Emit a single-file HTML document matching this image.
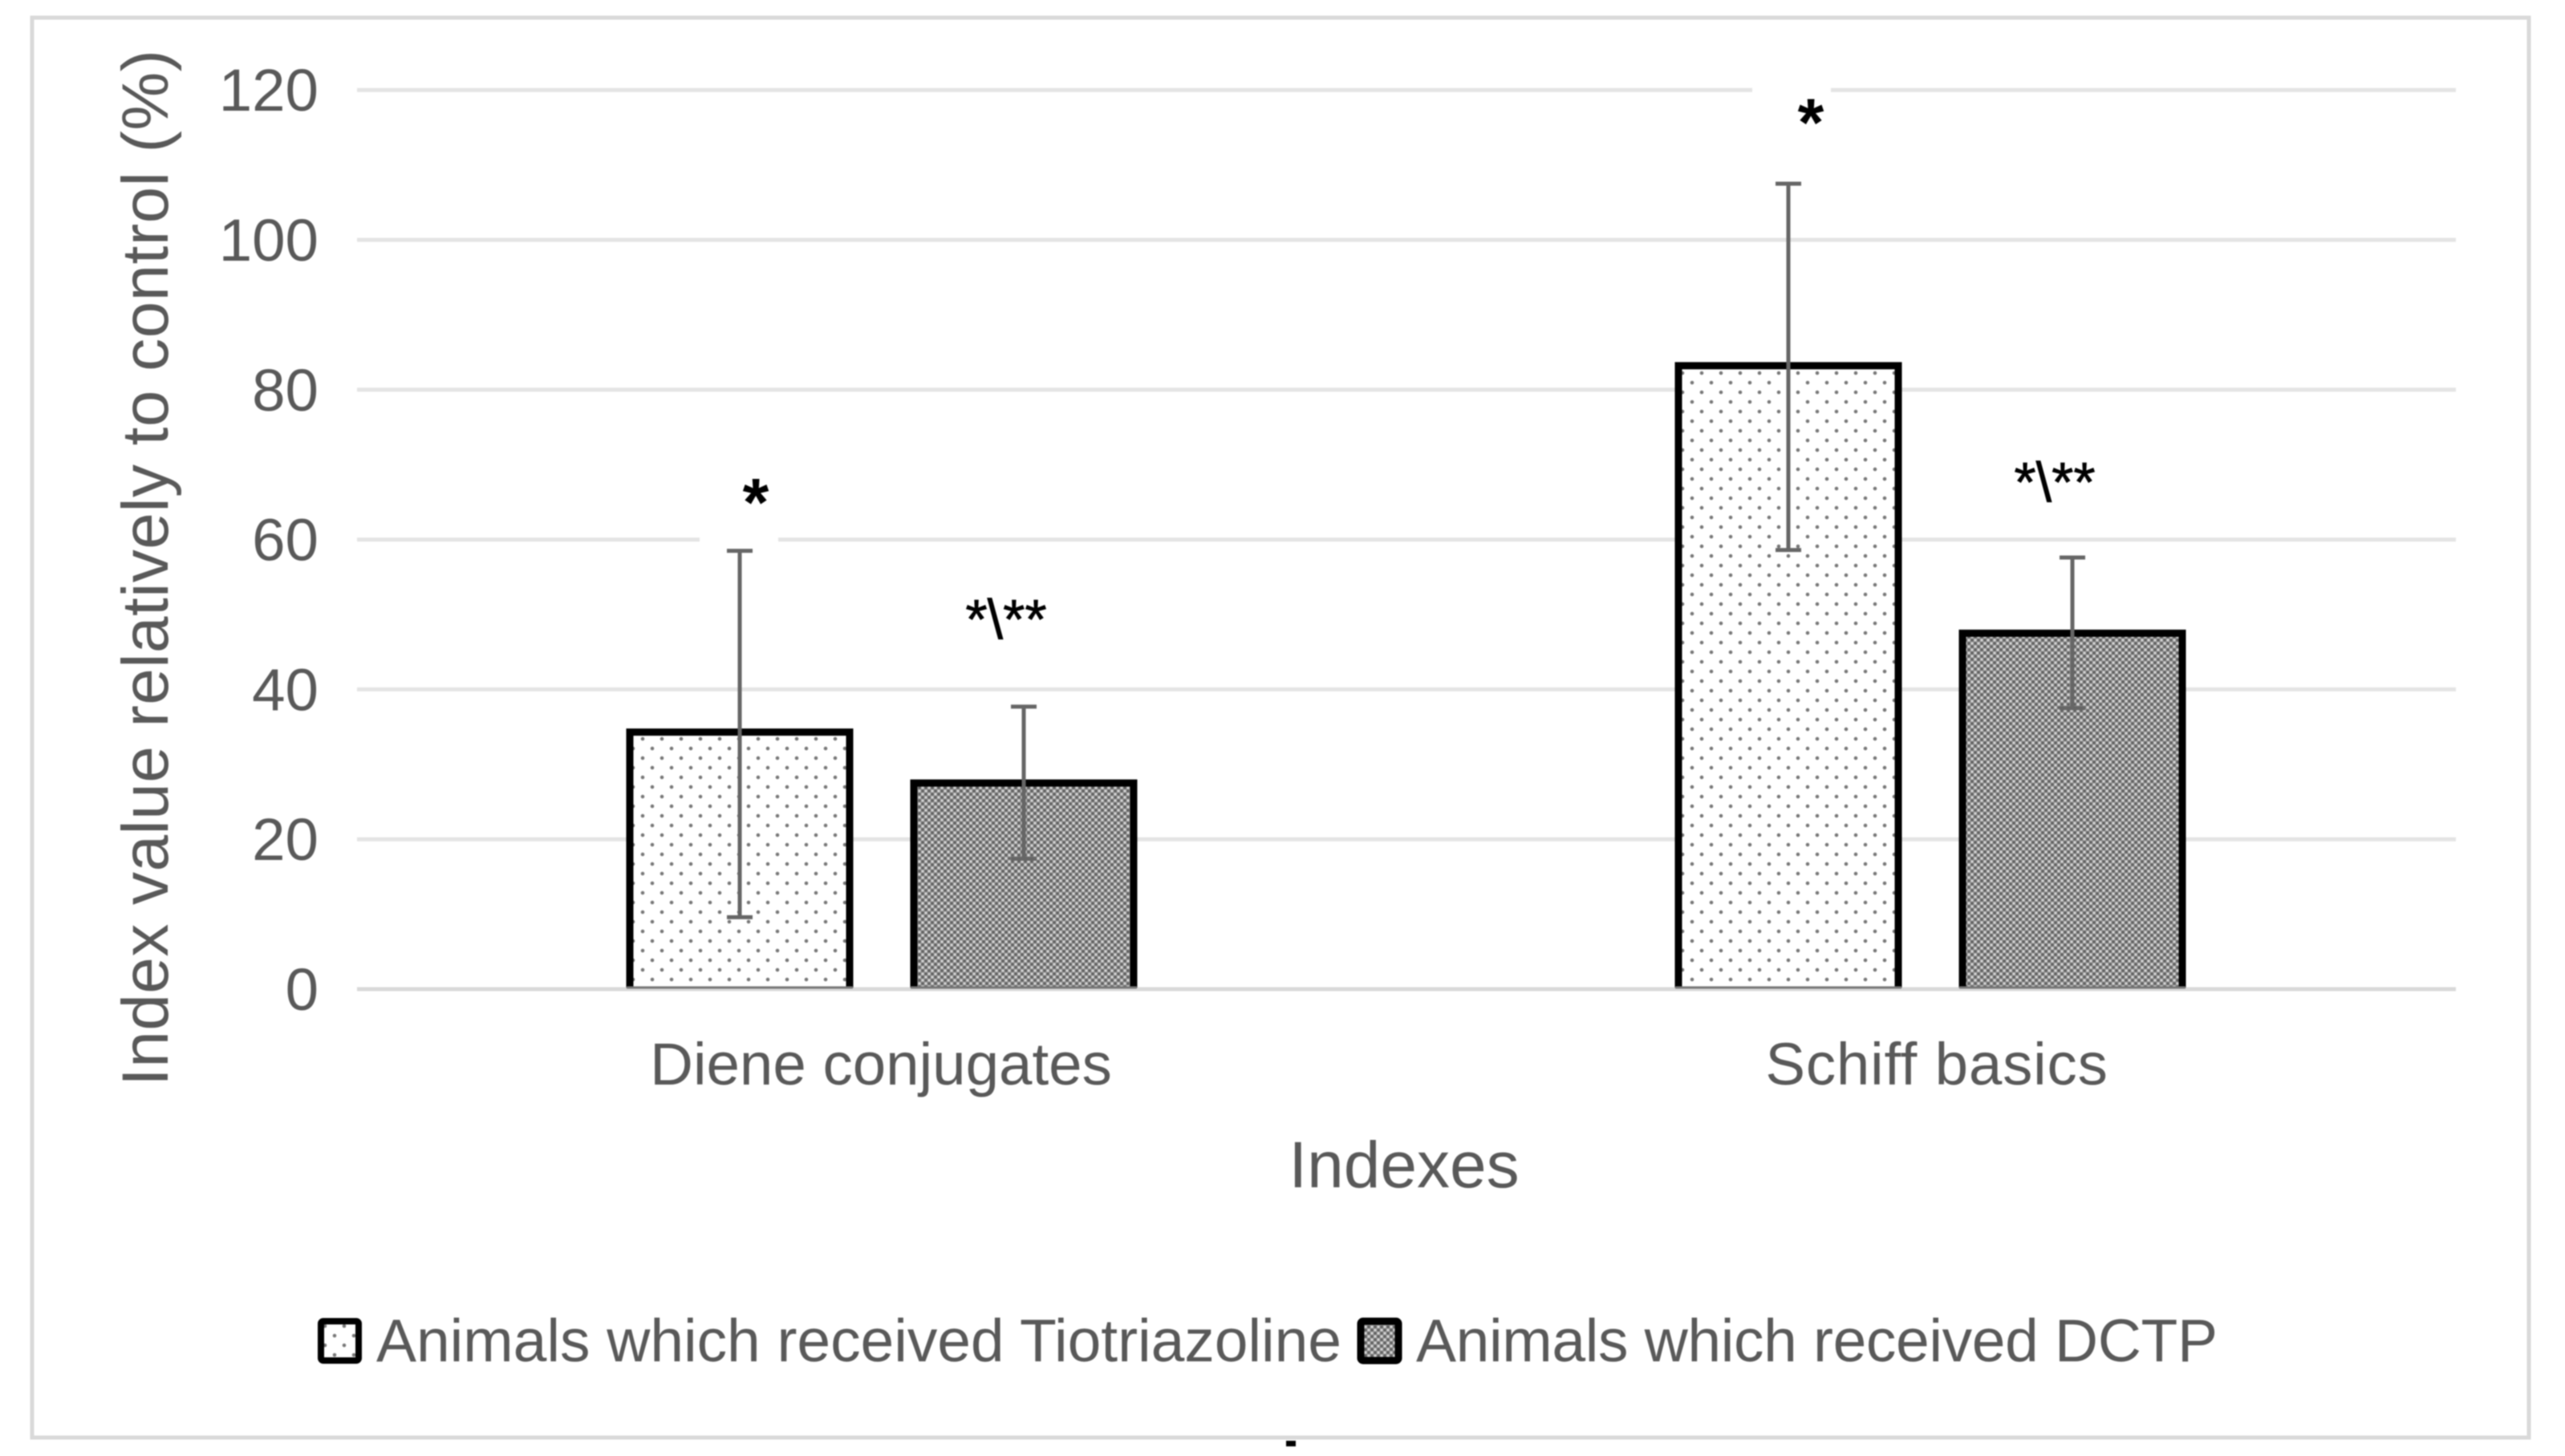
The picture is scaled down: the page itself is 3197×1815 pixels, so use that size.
<!DOCTYPE html>
<html lang="en">
<head>
<meta charset="utf-8">
<title>Index value relative to control</title>
<style>
html,body{margin:0;padding:0;background:#fff;width:3197px;height:1815px;overflow:hidden}
svg{display:block;filter:blur(0.8px)}
text{font-family:"Liberation Sans",Arial,sans-serif}
</style>
</head>
<body>
<svg id="chart" xmlns="http://www.w3.org/2000/svg" width="3197" height="1815" viewBox="0 0 3197 1815">
  <defs>
    <pattern id="pat-dots" width="24" height="24" patternUnits="userSpaceOnUse" patternTransform="translate(3,3)">
      <rect width="24" height="24" fill="#ffffff"/>
      <circle cx="6" cy="6" r="2.3" fill="#777"/>
      <circle cx="18" cy="18" r="2.3" fill="#777"/>
    </pattern>
    <pattern id="pat-mesh" width="8" height="8" patternUnits="userSpaceOnUse">
      <rect width="8" height="8" fill="#8f8f8f"/>
      <rect x="0.5" y="0.5" width="3" height="3" fill="#d4d4d4"/>
      <rect x="4.5" y="4.5" width="3" height="3" fill="#d4d4d4"/>
      <rect x="4.5" y="0.5" width="3" height="3" fill="#5f5f5f"/>
      <rect x="0.5" y="4.5" width="3" height="3" fill="#5f5f5f"/>
    </pattern>
  </defs>
  <rect width="3197" height="1815" fill="#ffffff"/>
  <rect x="40" y="22" width="3112" height="1770" fill="none" stroke="#d9d9d9" stroke-width="5"/>
  <g id="grid"></g>
  <g id="yticks"></g>
  <g id="masks"></g>
  <g id="bars"></g>
  <g id="errs"></g>
  <g id="annots"></g>
  <g id="xticks"></g>
  <text transform="translate(209,1354) rotate(-90)" font-size="82" fill="#595959" textLength="1292">Index value relatively to control (%)</text>
  <text x="1750" y="1480" text-anchor="middle" font-size="82" fill="#595959">Indexes</text>
  <g>
    <g>
      <rect x="400" y="1647" width="47" height="49" rx="3" fill="url(#pat-dots)" stroke="#000" stroke-width="8"/>
      <text x="469" y="1697" font-size="75" fill="#595959" textLength="1203">Animals which received Tiotriazoline</text>
    </g>
    <g>
      <rect x="1696" y="1647" width="47" height="49" rx="3" fill="url(#pat-mesh)" stroke="#000" stroke-width="9"/>
      <text x="1765" y="1697" font-size="75" fill="#595959" textLength="999">Animals which received DCTP</text>
    </g>
  </g>
  <rect x="1603" y="1796" width="12" height="7" fill="#000"/>
</svg>
<script>
const categories = ["Diene conjugates", "Schiff basics"];
const yTicks = [0, 20, 40, 60, 80, 100, 120];
const tiotriazoline = [34.3, 83.2];
const tiotriazolineLow = [9.6, 58.6];
const tiotriazolineHigh = [58.5, 107.5];
const dctp = [27.5, 47.5];
const dctpLow = [17.4, 37.5];
const dctpHigh = [37.7, 57.6];
const tiotriazolineMarks = ["*", "*"];
const dctpMarks = ["*\\**", "*\\**"];
const tiotriazolineMarkLevel = [61.9, 112.6];
const dctpMarkLevel = [46.8, 65.1];
const maskedTicks = [60, 120];

const NS = 'http://www.w3.org/2000/svg';
function yScale(v) { return 1233 - v * 9.34; }
function xScale(i) { return 1099 + i * 1307; }
function labelX(i) { return 1098 + i * 1316; }
const BAR_OFFSET = 177;
const BAR_W = 274;
function make(tag, parent, attrs, txt) {
  const el = document.createElementNS(NS, tag);
  for (const k in attrs) el.setAttribute(k, attrs[k]);
  if (txt !== undefined) el.textContent = txt;
  parent.appendChild(el);
  return el;
}
const gridG = document.getElementById('grid');
const ytG = document.getElementById('yticks');
yTicks.forEach(function (t) {
  const line = make('line', gridG, {x1: 445, x2: 3061, y1: yScale(t), y2: yScale(t), stroke: t === 0 ? '#d9d9d9' : '#e4e4e4', 'stroke-width': 5});
  
  
  const lab = make('text', ytG, {x: 397, y: yScale(t) + 26, 'text-anchor': 'end', 'font-size': 74.5, fill: '#595959'}, String(t));
  
  
});
const maskG = document.getElementById('masks');
maskedTicks.forEach(function (t, i) {
  const cx = xScale(i) - BAR_OFFSET + i * 5;
  const m = make('rect', maskG, {x: cx - 50, y: yScale(t) - 6, width: 98, height: 12, fill: '#ffffff'});
  
  
});
const barsG = document.getElementById('bars');
const errG = document.getElementById('errs');
const annG = document.getElementById('annots');
function drawBar(cx, value, fill, name) {
  const x0 = cx - BAR_W / 2, x1 = cx + BAR_W / 2, y0 = yScale(value), yb = yScale(0) - 2;
  const g = make('g', barsG, {});
  
  
  const r = make('rect', g, {x: x0, y: y0, width: BAR_W, height: yb - y0, fill: fill});
  
  
  const p = make('path', g, {d: 'M' + x0 + ' ' + yb + 'V' + y0 + 'H' + x1 + 'V' + yb, fill: 'none', stroke: '#000', 'stroke-width': 9});
  
  
  const b = make('line', g, {x1: x0 - 4, x2: x1 + 4, y1: yb, y2: yb, stroke: '#777', 'stroke-width': 3});
  
  
}
function drawErr(cx, lo, hi, name) {
  const g = make('g', errG, {stroke: '#666', 'stroke-width': 5, fill: 'none'});
  
  
  const a = make('line', g, {x1: cx, x2: cx, y1: yScale(hi), y2: yScale(lo)});
  
  
  const c1 = make('line', g, {x1: cx - 16, x2: cx + 16, y1: yScale(hi), y2: yScale(hi)});
  
  
  const c2 = make('line', g, {x1: cx - 16, x2: cx + 16, y1: yScale(lo), y2: yScale(lo)});
  
  
}
categories.forEach(function (c, i) {
  const a = xScale(i) - BAR_OFFSET, b = xScale(i) + BAR_OFFSET;
  drawBar(a, tiotriazoline[i], 'url(#pat-dots)', 'bar-tiotriazoline-' + i);
  drawBar(b, dctp[i], 'url(#pat-mesh)', 'bar-dctp-' + i);
  drawErr(a, tiotriazolineLow[i], tiotriazolineHigh[i], 'error-bar-tiotriazoline-' + i);
  drawErr(b, dctpLow[i], dctpHigh[i], 'error-bar-dctp-' + i);
  const s1 = make('text', annG, {x: a + (i === 0 ? 20 : 28), y: yScale(tiotriazolineMarkLevel[i]), 'text-anchor': 'middle', 'font-size': 84, 'font-weight': 'bold', fill: '#000'}, tiotriazolineMarks[i]);
  
  
  const s2 = make('text', annG, {x: b - 22, y: yScale(dctpMarkLevel[i]), 'text-anchor': 'middle', 'font-size': 70, stroke: '#000', 'stroke-width': 0.8, fill: '#000'}, dctpMarks[i]);
  
  
  const l = make('text', document.getElementById('xticks'), {x: labelX(i), y: 1352, 'text-anchor': 'middle', 'font-size': 74.5, 'letter-spacing': i === 1 ? 0.8 : 0, fill: '#595959'}, c);
  
  
});
</script>
</body>
</html>
